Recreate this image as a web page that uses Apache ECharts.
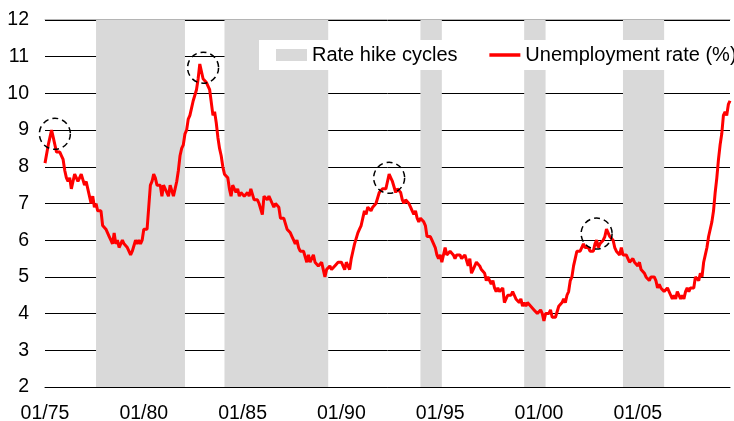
<!DOCTYPE html>
<html>
<head>
<meta charset="utf-8">
<script src="https://cdn.jsdelivr.net/npm/echarts@6/dist/echarts.min.js"></script>
<style>
  html, body { margin: 0; padding: 0; background: #fff; }
  #chart { width: 734px; height: 421px; }
</style>
</head>
<body>
<div id="chart"></div>
<script>
// monthly US unemployment rate (%), 01/75 .. 09/09
var firstYear = 1975
var unemployment = [
  8.1, 8.1, 8.6, 8.8, 9.0, 8.8, 8.6, 8.4, 8.4, 8.4, 8.3, 8.2,      // 1975
  7.9, 7.7, 7.6, 7.7, 7.4, 7.6, 7.8, 7.8, 7.6, 7.7, 7.8, 7.8,      // 1976
  7.5, 7.6, 7.4, 7.2, 7.0, 7.2, 6.9, 7.0, 6.8, 6.8, 6.8, 6.4,      // 1977
  6.4, 6.3, 6.3, 6.1, 6.0, 5.9, 6.2, 5.9, 6.0, 5.8, 5.9, 6.0,      // 1978
  5.9, 5.9, 5.8, 5.8, 5.6, 5.7, 5.7, 6.0, 5.9, 6.0, 5.9, 6.0,      // 1979
  6.3, 6.3, 6.3, 6.9, 7.5, 7.6, 7.8, 7.7, 7.5, 7.5, 7.5, 7.2,      // 1980
  7.5, 7.4, 7.4, 7.2, 7.5, 7.5, 7.2, 7.4, 7.6, 7.9, 8.3, 8.5,      // 1981
  8.6, 8.9, 9.0, 9.3, 9.4, 9.6, 9.8, 9.8, 10.1, 10.4, 10.8, 10.8,  // 1982
  10.4, 10.4, 10.3, 10.2, 10.1, 10.1, 9.4, 9.5, 9.2, 8.8, 8.5, 8.3, // 1983
  8.0, 7.8, 7.8, 7.7, 7.4, 7.2, 7.5, 7.5, 7.3, 7.4, 7.2, 7.3,      // 1984
  7.3, 7.2, 7.2, 7.3, 7.2, 7.4, 7.4, 7.1, 7.1, 7.1, 7.0, 7.0,      // 1985
  6.7, 7.2, 7.2, 7.1, 7.2, 7.2, 7.0, 6.9, 7.0, 7.0, 6.9, 6.6,      // 1986
  6.6, 6.6, 6.6, 6.3, 6.3, 6.2, 6.1, 6.0, 5.9, 6.0, 5.8, 5.7,      // 1987
  5.7, 5.7, 5.7, 5.4, 5.6, 5.4, 5.4, 5.6, 5.4, 5.4, 5.3, 5.3,      // 1988
  5.4, 5.2, 5.0, 5.2, 5.2, 5.3, 5.2, 5.2, 5.3, 5.3, 5.4, 5.4,      // 1989
  5.4, 5.3, 5.2, 5.4, 5.4, 5.2, 5.5, 5.7, 5.9, 5.9, 6.2, 6.3,      // 1990
  6.4, 6.6, 6.8, 6.7, 6.9, 6.9, 6.8, 6.9, 6.9, 7.0, 7.0, 7.3,      // 1991
  7.3, 7.4, 7.4, 7.4, 7.6, 7.8, 7.7, 7.6, 7.6, 7.3, 7.4, 7.4,      // 1992
  7.3, 7.1, 7.0, 7.1, 7.1, 7.0, 6.9, 6.8, 6.7, 6.8, 6.6, 6.5,      // 1993
  6.6, 6.6, 6.5, 6.4, 6.1, 6.1, 6.1, 6.0, 5.9, 5.8, 5.6, 5.5,      // 1994
  5.6, 5.4, 5.4, 5.8, 5.6, 5.6, 5.7, 5.7, 5.6, 5.5, 5.6, 5.6,      // 1995
  5.6, 5.5, 5.5, 5.6, 5.6, 5.3, 5.5, 5.1, 5.2, 5.2, 5.4, 5.4,      // 1996
  5.3, 5.2, 5.2, 5.1, 4.9, 5.0, 4.9, 4.8, 4.9, 4.7, 4.6, 4.7,      // 1997
  4.6, 4.6, 4.7, 4.3, 4.4, 4.5, 4.5, 4.5, 4.6, 4.5, 4.4, 4.4,      // 1998
  4.3, 4.4, 4.2, 4.3, 4.2, 4.3, 4.3, 4.2, 4.2, 4.1, 4.1, 4.0,      // 1999
  4.0, 4.1, 4.0, 3.8, 4.0, 4.0, 4.0, 4.1, 3.9, 3.9, 3.9, 3.9,      // 2000
  4.2, 4.2, 4.3, 4.4, 4.3, 4.5, 4.6, 4.9, 5.0, 5.3, 5.5, 5.7,      // 2001
  5.7, 5.7, 5.7, 5.9, 5.8, 5.8, 5.8, 5.7, 5.7, 5.7, 5.9, 6.0,      // 2002
  5.8, 5.9, 5.9, 6.0, 6.1, 6.3, 6.2, 6.1, 6.1, 6.0, 5.8, 5.7,      // 2003
  5.7, 5.6, 5.8, 5.6, 5.6, 5.6, 5.5, 5.4, 5.4, 5.5, 5.4, 5.4,      // 2004
  5.3, 5.4, 5.2, 5.2, 5.1, 5.0, 5.0, 4.9, 5.0, 5.0, 5.0, 4.9,      // 2005
  4.7, 4.8, 4.7, 4.7, 4.6, 4.6, 4.7, 4.7, 4.5, 4.4, 4.5, 4.4,      // 2006
  4.6, 4.5, 4.4, 4.5, 4.4, 4.6, 4.7, 4.6, 4.7, 4.7, 4.7, 5.0,      // 2007
  5.0, 4.9, 5.1, 5.0, 5.4, 5.6, 5.8, 6.1, 6.1, 6.5, 6.8, 7.3,      // 2008
  7.7, 8.2, 8.6, 8.9, 9.4, 9.5, 9.4, 9.7, 9.8                      // 2009
]

// Fed rate hike cycles [start, end]
var hikeCycles = [
  ['08/77', '02/82'],
  ['02/84', '05/89'],
  ['01/94', '02/95'],
  ['04/99', '05/00'],
  ['04/04', '05/06']
]

// dashed circles round the peaks
var peaks = [
  ['07/75', 8.9],
  ['01/83', 10.7],
  ['06/92', 7.7],
  ['12/02', 6.18]
]

var yTicks = { min: 2, max: 12, step: 1 }

var months = []
for (var i = 0; i < unemployment.length; i++) {
  var yr = firstYear + Math.floor(i / 12)
  var mo = i % 12 + 1
  months.push((mo < 10 ? '0' : '') + mo + '/' + String(yr).slice(2))
}

var font = 'Liberation Sans, Arial, sans-serif'
var shade = '#d9d9d9'

var chart = echarts.init(document.getElementById('chart'))
chart.setOption({
  backgroundColor: '#fff',
  animation: false,
  textStyle: { fontFamily: font, color: '#000' },
  grid: { left: 45, right: 4, top: 20, bottom: 34, outerBoundsMode: 'none' },
  legend: {
    left: 259,
    top: 40,
    width: 480,
    padding: [5, 2, 5, 17],
    itemGap: 30,
    itemWidth: 31,
    itemHeight: 12,
    backgroundColor: '#fff',
    textStyle: { fontSize: 20, color: '#000', fontFamily: font },
    data: [
      { name: 'Rate hike cycles', icon: 'rect', itemStyle: { color: shade } },
      {
        name: 'Unemployment rate (%)',
        itemStyle: { color: 'rgba(0,0,0,0)', borderWidth: 0, opacity: 0 },
        lineStyle: { color: '#ff0000', width: 3.5 }
      }
    ]
  },
  xAxis: [{
    type: 'category',
    boundaryGap: false,
    data: months,
    z: 4,
    axisLine: { lineStyle: { color: '#000', width: 1 } },
    axisTick: { show: false },
    axisLabel: {
      interval: 59,
      margin: 17,
      fontSize: 19.5,
      color: '#000',
      fontFamily: font
    },
    splitLine: { show: false }
  }, {
    type: 'category',
    position: 'top',
    offset: 1,
    boundaryGap: false,
    data: months,
    axisLine: { lineStyle: { color: '#b4b4b4', width: 1 } },
    axisTick: { show: false },
    axisLabel: { show: false }
  }],
  yAxis: {
    type: 'value',
    min: yTicks.min,
    max: yTicks.max,
    interval: yTicks.step,
    axisLine: { show: false },
    axisTick: { show: false },
    axisLabel: { margin: 16, fontSize: 19.5, color: '#000', fontFamily: font },
    splitLine: { lineStyle: { color: '#000', width: 1 } }
  },
  series: [
    {
      name: 'Rate hike cycles',
      type: 'line',
      data: [],
      z: 1,
      itemStyle: { color: shade },
      lineStyle: { color: shade },
      markArea: {
        silent: true,
        itemStyle: { color: shade },
        data: hikeCycles.map(function (c) {
          return [{ xAxis: c[0] }, { xAxis: c[1] }]
        })
      }
    },
    {
      name: 'Unemployment rate (%)',
      type: 'line',
      data: unemployment,
      z: 3,
      symbol: 'none',
      showSymbol: false,
      itemStyle: { color: '#ff0000' },
      lineStyle: { color: '#ff0000', width: 3 },
      markPoint: {
        silent: true,
        symbol: 'circle',
        symbolSize: 31,
        label: { show: false },
        itemStyle: {
          color: 'rgba(0,0,0,0)',
          borderColor: '#000',
          borderWidth: 1.5,
          borderType: [6, 4]
        },
        data: peaks.map(function (p) {
          return { coord: [p[0], p[1]] }
        })
      }
    }
  ]
})
</script>
</body>
</html>
